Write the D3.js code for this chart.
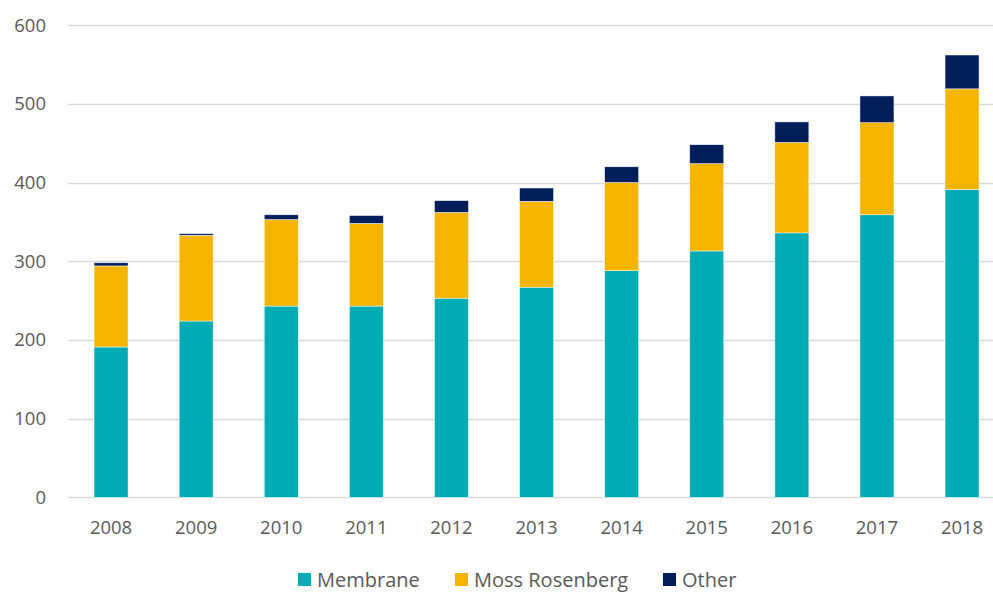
<!DOCTYPE html>
<html><head><meta charset="utf-8">
<script src="https://cdn.jsdelivr.net/npm/d3@7"></script>
<style>body{margin:0;background:#fff;overflow:hidden}svg{display:block}</style>
</head><body>
<svg id="c" width="993" height="592"></svg>
<script>
const years = ["2008","2009","2010","2011","2012","2013","2014","2015","2016","2017","2018"];
const membrane = [191,224,243,243,253,267,288,313,336,359,391];
const moss = [103,109,110,105,109,109,112,111,115,117,128];
const other = [4,2,6,10,15,17,20,24,26,34,43];
const seriesNames = ["Membrane","Moss Rosenberg","Other"];
const colors = ["#00ACB3","#F5B400","#001E5A"];
const yTicks = [0,100,200,300,400,500,600];

const svg = d3.select("#c");
const font = "'Open Sans', sans-serif";
const x = d3.scaleBand().domain(years).range([68.5, 1004.6]).paddingInner(0.6).paddingOuter(0.3);
const y = d3.scaleLinear().domain([0,600]).range([497.3, 25.1]);

const rows = years.map((yr,i)=>({year:yr, Membrane:membrane[i], "Moss Rosenberg":moss[i], Other:other[i]}));
const stacked = d3.stack().keys(seriesNames)(rows);

// gridlines
svg.append("g").selectAll("line").data(yTicks).join("line")
  .attr("x1",68).attr("x2",993)
  .attr("y1",d=>Math.round(y(d))+0.5).attr("y2",d=>Math.round(y(d))+0.5)
  .attr("stroke","#d9d9d9").attr("stroke-width",1.5);

// y labels
svg.append("g").selectAll("text").data(yTicks).join("text")
  .attr("x",46).attr("y",d=>y(d)).attr("dy","0.35em")
  .attr("text-anchor","end").attr("font-family",font).attr("font-size",18.5).attr("fill","#595959")
  .text(d=>d);

// bars
const bw = 34;
svg.append("g").selectAll("g").data(stacked).join("g")
  .attr("fill",(d,i)=>colors[i])
  .selectAll("rect").data(d=>d).join("rect")
  .attr("x",d=>x(d.data.year)+x.bandwidth()/2-bw/2)
  .attr("width",bw)
  .attr("y",d=>y(d[1]))
  .attr("height",d=>y(d[0])-y(d[1]))
  .attr("stroke","#ffffff").attr("stroke-width",0.6).attr("stroke-opacity",0.8);

// x labels
svg.append("g").selectAll("text").data(years).join("text")
  .attr("x",d=>x(d)+x.bandwidth()/2).attr("y",534)
  .attr("text-anchor","middle").attr("font-family",font).attr("font-size",18.5).attr("fill","#595959")
  .text(d=>d);

// legend
const legX = [298, 455, 663];
const leg = svg.append("g").selectAll("g").data(seriesNames).join("g")
  .attr("transform",(d,i)=>`translate(${legX[i]},573)`);
leg.append("rect").attr("x",0).attr("y",0).attr("width",13).attr("height",13).attr("fill",(d,i)=>colors[i]);
leg.append("text").attr("x",19).attr("y",13.5).attr("font-family",font).attr("font-size",20).attr("fill","#595959").text(d=>d);
</script>
</body></html>
